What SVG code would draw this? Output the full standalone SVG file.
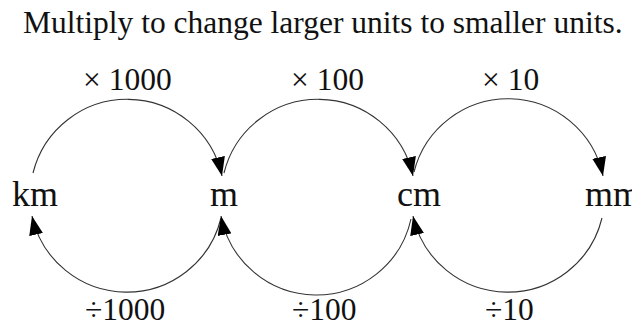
<svg xmlns="http://www.w3.org/2000/svg" width="632" height="327" viewBox="0 0 632 327">
  <style>
    text { font-family: "Liberation Serif", "Times New Roman", serif; fill: #111; }
    .title { font-size: 31.5px; }
    .unit { font-size: 36px; }
    .lbl { font-size: 31.5px; }
    .arc { fill: none; stroke: #333; stroke-width: 1.1; marker-end: url(#ah); }
  </style>
  <defs>
    <marker id="ah" markerUnits="userSpaceOnUse" viewBox="0 0 19 14" markerWidth="19" markerHeight="14" refX="19" refY="7" orient="auto">
      <path d="M0,0 L19,7 L0,14 z" fill="#000"/>
    </marker>
  </defs>
  <rect width="632" height="327" fill="#fff"/>
  <text class="title" x="23" y="33">Multiply to change larger units to smaller units.</text>

  <g id="connectors">
    <path class="arc" d="M33,173 A97,97 0 0 1 222,176"/>
    <path class="arc" d="M224,173 A97,97 0 0 1 413,176"/>
    <path class="arc" d="M414,172 A97,97 0 0 1 603,176"/>
    <path class="arc" d="M221,218 A97,97 0 0 1 32,216"/>
    <path class="arc" d="M411,219 A97,97 0 0 1 221,216"/>
    <path class="arc" d="M602,218 A97,97 0 0 1 413,216"/>
    <text class="lbl" x="83" y="90">× 1000</text>
    <text class="lbl" x="291" y="90">× 100</text>
    <text class="lbl" x="482" y="90">× 10</text>
    <text class="lbl" x="85" y="320">÷1000</text>
    <text class="lbl" x="292" y="320">÷100</text>
    <text class="lbl" x="485" y="320">÷10</text>
  </g>

  <g id="node-km"><text class="unit" x="12" y="206">km</text></g>
  <g id="node-m"><text class="unit" x="210" y="206">m</text></g>
  <g id="node-cm"><text class="unit" x="397" y="206">cm</text></g>
  <g id="node-mm"><text class="unit" x="585" y="206">mm</text></g>
</svg>
